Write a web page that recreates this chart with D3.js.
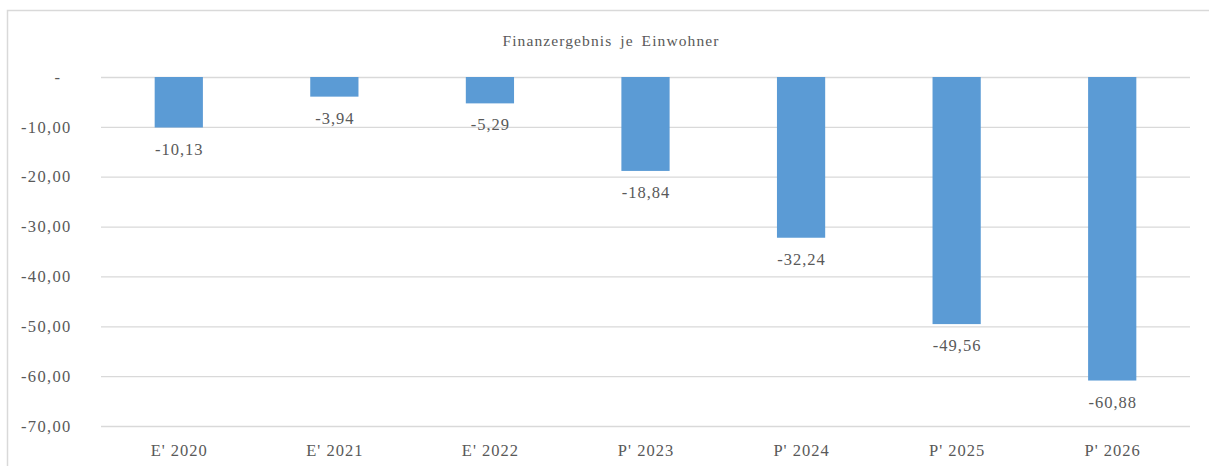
<!DOCTYPE html>
<html>
<head>
<meta charset="utf-8">
<script src="https://cdn.jsdelivr.net/npm/d3@7"></script>
<style>
  html, body { margin: 0; padding: 0; background: #fff; }
  svg { display: block; }
  text { font-family: "Liberation Serif", "Times New Roman", serif; fill: #595959; }
</style>
</head>
<body>
<svg id="chart" width="1209" height="466"></svg>
<script>
// Financial result per inhabitant (E' = actual, P' = plan)
const categories = ["E' 2020", "E' 2021", "E' 2022", "P' 2023", "P' 2024", "P' 2025", "P' 2026"];
const values = [-10.13, -3.94, -5.29, -18.84, -32.24, -49.56, -60.88];
const yTicks = [0, -10, -20, -30, -40, -50, -60, -70];
const title = "Finanzergebnis je Einwohner";

const svg = d3.select("#chart");
const W = 1209, H = 466;
const plot = { left: 101, right: 1190, top: 77, bottom: 426 };
const FS = 16.5; // label font size
const LS = 1.0;  // letter spacing for labels

// German number format with a plain hyphen for negatives, "-" for zero
const locale = d3.formatLocale({ decimal: ",", thousands: ".", grouping: [3], currency: ["", " €"], minus: "-" });
const fmt2 = locale.format(",.2f");
const fmt = v => v === 0 ? "-" : fmt2(v);

// chart frame
svg.append("path")
  .attr("d", `M7.5,${H} V10.5 H${W}`)
  .attr("fill", "none")
  .attr("stroke", "#d9d9d9")
  .attr("stroke-width", 1.5);

svg.append("text")
  .attr("x", 611).attr("y", 46)
  .attr("text-anchor", "middle")
  .attr("font-size", 15.5)
  .attr("letter-spacing", 1.1)
  .attr("word-spacing", 3)
  .text(title);

const x = d3.scaleBand().domain(categories).range([plot.left, plot.right]).paddingInner(0.69).paddingOuter(0.345);
const y = d3.scaleLinear().domain([0, -70]).range([plot.top, plot.bottom]);

// gridlines + y labels
const yAxis = d3.axisLeft(y).tickValues(yTicks).tickSize(-(plot.right - plot.left)).tickFormat(fmt);
const gy = svg.append("g").attr("transform", `translate(${plot.left},0)`).call(yAxis);
gy.select(".domain").remove();
gy.selectAll(".tick line").attr("stroke", "#d9d9d9").attr("stroke-width", 1.3);
gy.selectAll(".tick text")
  .attr("x", -29.5)
  .attr("font-size", FS)
  .attr("letter-spacing", 1.3)
  .style("font-family", "Liberation Serif")
  .attr("fill", "#595959");
gy.selectAll(".tick text").filter(d => d === 0)
  .attr("x", -43).attr("text-anchor", "middle");

// bars
svg.append("g").selectAll("rect").data(values).join("rect")
  .attr("x", (d, i) => x(categories[i]))
  .attr("width", x.bandwidth())
  .attr("y", y(0))
  .attr("height", d => y(d) - y(0))
  .attr("fill", "#5b9bd5");

// value labels under bars
svg.append("g").selectAll("text").data(values).join("text")
  .attr("x", (d, i) => x(categories[i]) + x.bandwidth() / 2 + LS / 2)
  .attr("y", d => y(d) + 27)
  .attr("text-anchor", "middle")
  .attr("font-size", FS)
  .attr("letter-spacing", LS)
  .text(d => fmt(d));

// x axis labels
const gx = svg.append("g").attr("transform", `translate(${LS / 2},${plot.bottom})`)
  .call(d3.axisBottom(x).tickSize(0).tickPadding(0));
gx.select(".domain").remove();
gx.selectAll(".tick text")
  .attr("y", 30)
  .attr("dy", 0)
  .attr("font-size", FS)
  .attr("letter-spacing", LS)
  .style("font-family", "Liberation Serif")
  .attr("fill", "#595959");
</script>
</body>
</html>
